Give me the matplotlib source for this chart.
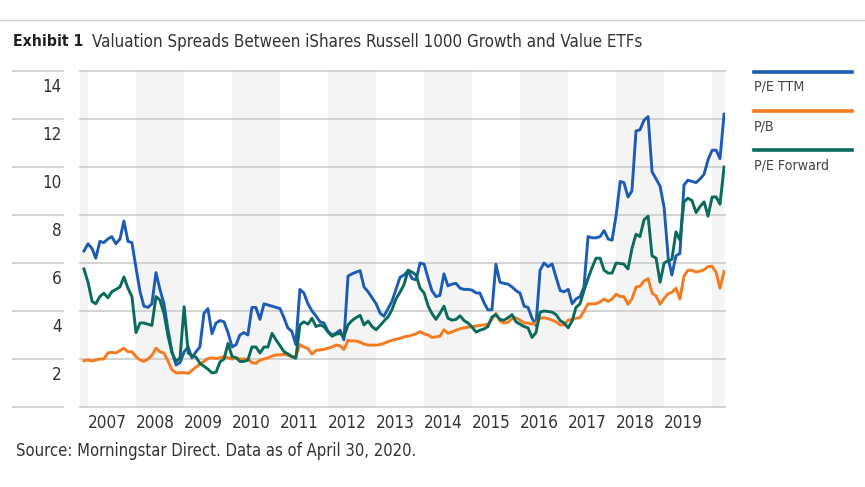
import matplotlib.pyplot as plt
import matplotlib.transforms as mtransforms
from matplotlib import font_manager as fm
from matplotlib.lines import Line2D
import pandas as pd

# the reference uses a condensed face; take one if the system has it
narrow = [f for f in fm.fontManager.ttflist
          if (f.stretch in ('condensed', 'semi-condensed')
              or 'Narrow' in f.name or 'Condensed' in f.name)
          and f.style == 'normal']
if narrow:
    plt.rcParams['font.family'] = [narrow[0].name, 'DejaVu Sans']
    plt.rcParams['font.stretch'] = narrow[0].stretch
else:
    plt.rcParams['font.family'] = ['Liberation Sans', 'DejaVu Sans']

# monthly observations, Dec 2006 .. Apr 2020
months = pd.date_range('2006-12-01', '2020-04-01', freq='MS')

pe_ttm = [6.5,
          6.8, 6.6, 6.2, 6.9, 6.85, 7.0, 7.1, 6.8, 7.0, 7.75, 6.9, 6.85,
          5.8, 4.8, 4.2, 4.15, 4.3, 5.6, 4.9, 4.3, 3.2, 2.3, 1.75, 1.85,
          2.3, 2.5, 2.05, 2.3, 2.5, 3.9, 4.1, 3.05, 3.5, 3.6, 3.55, 3.1,
          2.5, 2.6, 3.0, 3.1, 3.0, 4.15, 4.15, 3.65, 4.3, 4.25, 4.2, 4.15,
          4.1, 3.7, 3.3, 3.15, 2.6, 4.9, 4.75, 4.3, 4.0, 3.8, 3.55, 3.5,
          3.15, 3.0, 3.07, 3.2, 2.8, 5.45, 5.55, 5.62, 5.68, 5.0, 4.8, 4.55,
          4.3, 3.9, 3.78, 4.1, 4.4, 4.9, 5.4, 5.5, 5.67, 5.35, 5.3, 6.0,
          5.95, 5.35, 4.85, 4.6, 4.65, 5.55, 5.05, 5.12, 5.15, 4.95, 4.9, 4.9,
          4.87, 4.75, 4.75, 4.35, 4.05, 4.05, 5.95, 5.2, 5.15, 5.12, 5.0, 4.85,
          4.74, 4.2, 4.15, 3.7, 3.4, 5.7, 6.0, 5.85, 5.96, 5.4, 4.85, 4.8,
          4.9, 4.3, 4.5, 4.6, 5.0, 7.1, 7.05, 7.05, 7.1, 7.35, 7.0, 6.95,
          8.0, 9.4, 9.35, 8.75, 9.0, 11.5, 11.55, 11.95, 12.1, 9.8, 9.5, 9.2,
          8.3, 6.2, 5.5, 6.3, 6.4, 9.25, 9.45, 9.4, 9.35, 9.5, 9.7, 10.3,
          10.7, 10.7, 10.35, 12.2]

pb = [1.93,
      1.96, 1.92, 1.96, 2.0, 2.0, 2.25, 2.28, 2.25, 2.35, 2.45, 2.3, 2.3,
      2.1, 1.96, 1.9, 2.0, 2.15, 2.45, 2.3, 2.25, 1.9, 1.55, 1.42, 1.43,
      1.43, 1.4, 1.52, 1.66, 1.78, 1.9, 2.02, 2.05, 2.02, 2.05, 2.1, 2.05,
      2.0, 2.05, 2.0, 2.0, 2.0, 1.85, 1.82, 1.95, 2.0, 2.05, 2.12, 2.17,
      2.17, 2.2, 2.15, 2.1, 2.1, 2.6, 2.5, 2.44, 2.2, 2.36, 2.38, 2.4,
      2.45, 2.5, 2.58, 2.55, 2.4, 2.78, 2.75, 2.75, 2.7, 2.62, 2.58, 2.58,
      2.58, 2.6, 2.65, 2.72, 2.78, 2.82, 2.86, 2.92, 2.95, 3.0, 3.05, 3.14,
      3.05, 3.0, 2.9, 2.92, 2.95, 3.22, 3.07, 3.13, 3.2, 3.26, 3.3, 3.33,
      3.33, 3.38, 3.4, 3.42, 3.45, 3.65, 3.9, 3.58, 3.5, 3.53, 3.68, 3.72,
      3.62, 3.5, 3.5, 3.45, 3.5, 3.7, 3.72, 3.68, 3.62, 3.55, 3.42, 3.42,
      3.62, 3.65, 3.7, 3.72, 4.0, 4.3, 4.3, 4.3, 4.38, 4.5, 4.4, 4.5,
      4.7, 4.6, 4.6, 4.28, 4.5, 5.0, 5.03, 5.25, 5.35, 4.75, 4.62, 4.28,
      4.53, 4.72, 4.78, 4.95, 4.5, 5.45, 5.7, 5.7, 5.62, 5.66, 5.72, 5.85,
      5.87, 5.6, 4.95, 5.65]

pe_fwd = [5.75,
          5.2, 4.4, 4.3, 4.6, 4.74, 4.55, 4.8, 4.9, 5.0, 5.42, 4.95, 4.6,
          3.1, 3.5, 3.5, 3.45, 3.4, 4.6, 4.45, 3.9, 2.95, 2.25, 1.9, 2.05,
          4.18, 2.25, 2.15, 2.08, 1.82, 1.7, 1.58, 1.42, 1.45, 1.88, 2.0, 2.65,
          2.1, 2.05, 1.9, 1.9, 1.95, 2.5, 2.5, 2.25, 2.5, 2.5, 3.07, 2.8,
          2.55, 2.3, 2.22, 2.1, 2.03, 3.42, 3.55, 3.45, 3.7, 3.35, 3.42, 3.35,
          3.12, 2.95, 3.03, 3.07, 2.93, 3.42, 3.6, 3.72, 3.82, 3.42, 3.58, 3.35,
          3.22, 3.4, 3.58, 3.75, 4.05, 4.5, 4.78, 5.1, 5.7, 5.62, 5.5, 4.95,
          4.75, 4.2, 3.9, 3.65, 3.9, 4.2, 3.7, 3.62, 3.65, 3.8, 3.6, 3.5,
          3.33, 3.12, 3.2, 3.25, 3.35, 3.75, 3.85, 3.65, 3.62, 3.72, 3.85, 3.55,
          3.45, 3.35, 3.3, 2.9, 3.1, 3.95, 4.0, 3.98, 3.95, 3.85, 3.6, 3.5,
          3.3, 3.6, 4.15, 4.3, 4.85, 5.35, 5.8, 6.2, 6.2, 5.7, 5.58, 5.58,
          6.0, 5.98, 5.95, 5.75, 6.6, 7.2, 7.1, 7.8, 7.95, 6.3, 6.2, 5.2,
          6.0, 6.1, 6.15, 7.3, 6.95, 8.55, 8.7, 8.6, 8.1, 8.35, 8.55, 7.95,
          8.75, 8.75, 8.45, 10.0]

series = [pe_ttm, pb, pe_fwd]
names = ['P/E TTM', 'P/B', 'P/E Forward']
colors = ['#1d5cb4', '#f47b20', '#0a6b5b']
year_labels = list(range(2007, 2020))
y_ticks = [0, 2, 4, 6, 8, 10, 12, 14]

W, H = 865, 487
fig = plt.figure(figsize=(W / 100, H / 100), dpi=100)
ax = fig.add_axes([80 / W, (H - 407) / H, 645 / W, 336 / H])


def fit_width(texts, px):
    # scale font size so the first text is px pixels wide
    r = fig.canvas.get_renderer()
    w = texts[0].get_window_extent(r).width
    size = texts[0].get_fontsize() * px / w
    for t in texts:
        t.set_fontsize(size)


# alternating year bands
for yr in range(2006, 2021, 2):
    ax.axvspan(pd.Timestamp(yr, 1, 1), pd.Timestamp(yr + 1, 1, 1),
               color='#f4f4f4', lw=0, zorder=0)

# gridlines, plus the short rules in the label column
label_tr = mtransforms.blended_transform_factory(fig.transFigure, ax.transData)
ylabels = []
for v in y_ticks:
    ax.axhline(v, color='#d2d2d2', lw=1.4, zorder=1, clip_on=False)
    ax.add_line(Line2D([13 / W, 63 / W], [v, v], transform=label_tr,
                       color='#d2d2d2', lw=1.4, clip_on=False))
    if v > 0:
        ylabels.append(ax.text(62 / W, v - 0.67, str(v), transform=label_tr,
                               ha='right', va='center', fontsize=14,
                               color='#333333'))

for vals, c in zip(series, colors):
    ax.plot(months, vals, color=c, lw=2.1, zorder=3, solid_joinstyle='round')

ax.set_xlim(pd.Timestamp('2006-11-01'), pd.Timestamp('2020-04-08'))
ax.set_ylim(0, 14)
ax.set_xticks([pd.Timestamp(y, 1, 1) for y in year_labels])
xlabels = ax.set_xticklabels([str(y) for y in year_labels], ha='left',
                             fontsize=14, color='#333333')
ax.tick_params(axis='x', length=0, pad=5)
ax.set_yticks([])
for s in ax.spines.values():
    s.set_visible(False)

# title and source
fig.add_artist(Line2D([0, 1], [1 - 20 / H] * 2, color='#d0d0d0', lw=1))
t_ex = fig.text(13 / W, 1 - 42 / H, 'Exhibit 1', fontsize=14,
                fontweight='bold', va='center', color='#222222')
t_title = fig.text(92 / W, 1 - 42 / H,
                   'Valuation Spreads Between iShares Russell 1000 Growth and Value ETFs',
                   fontsize=14, va='center', color='#333333')
t_src = fig.text(16 / W, 1 - 451 / H,
                 'Source: Morningstar Direct. Data as of April 30, 2020.',
                 fontsize=14, va='center', color='#333333')

# legend on the right
leg_texts = []
for i, (name, c) in enumerate(zip(names, colors)):
    ly = 72 + 39 * i
    fig.add_artist(Line2D([754 / W, 852 / W], [1 - ly / H] * 2, color=c, lw=2.6))
    leg_texts.append(fig.text(754 / W, 1 - (ly + 15) / H, name, fontsize=12,
                              va='center', color='#444444'))

# sizes: a little above the reference widths, since the face is less condensed
fig.canvas.draw()
fit_width([t_ex], 71)
fit_width([t_title], 555)
fit_width([t_src], 400)
fit_width([leg_texts[2]] + leg_texts[:2], 75)
fit_width(list(xlabels) + ylabels, 39)

fig.savefig('out.png', dpi=100)
